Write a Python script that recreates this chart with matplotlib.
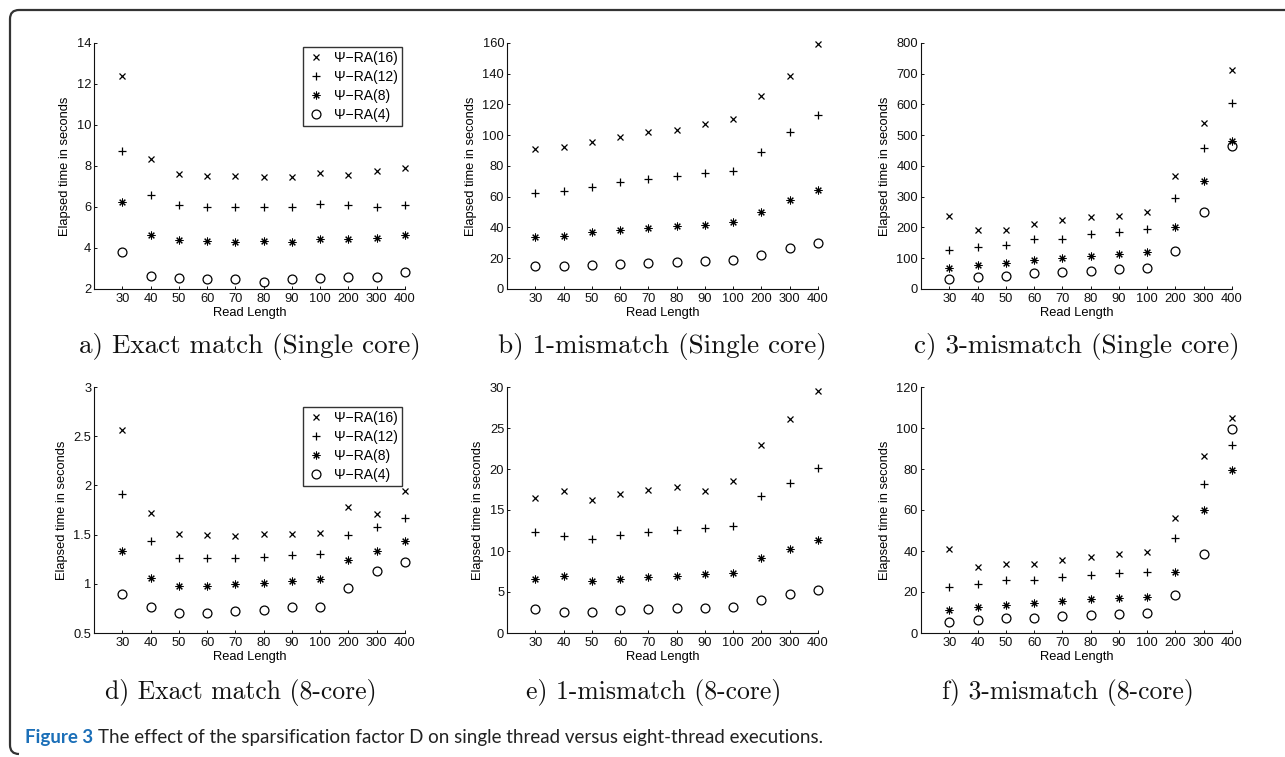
import matplotlib
matplotlib.use('Agg')
import matplotlib.pyplot as plt
from matplotlib.path import Path
from matplotlib.patches import PathPatch
from matplotlib.ticker import FormatStrFormatter

# ---------------- data ----------------
read_lengths = ['30', '40', '50', '60', '70', '80', '90', '100', '200', '300', '400']
series_labels = ['Ψ\u2212RA(16)', 'Ψ\u2212RA(12)', 'Ψ\u2212RA(8)', 'Ψ\u2212RA(4)']

# a) Exact match (Single core)
a_ra16 = [12.4, 8.35, 7.6, 7.5, 7.5, 7.48, 7.47, 7.65, 7.58, 7.75, 7.88]
a_ra12 = [8.75, 6.6, 6.12, 6.02, 6.0, 6.0, 6.02, 6.13, 6.12, 5.98, 6.1]
a_ra8 = [6.22, 4.65, 4.4, 4.35, 4.3, 4.32, 4.3, 4.42, 4.42, 4.5, 4.62]
a_ra4 = [3.8, 2.62, 2.55, 2.5, 2.48, 2.35, 2.48, 2.55, 2.6, 2.58, 2.82]

# b) 1-mismatch (Single core)
b_ra16 = [91.1, 92.4, 95.4, 99.1, 102.2, 103.7, 107.2, 110.6, 125.8, 138.4, 159.4]
b_ra12 = [62.5, 63.8, 66.6, 69.4, 71.8, 73.8, 75.3, 76.6, 89.2, 102.0, 113.4]
b_ra8 = [34.1, 34.7, 36.9, 38.4, 39.7, 40.8, 41.6, 43.6, 50.1, 57.9, 64.4]
b_ra4 = [14.8, 14.8, 15.4, 16.3, 16.9, 17.6, 18.0, 18.9, 22.1, 26.5, 29.9]

# c) 3-mismatch (Single core)
c_ra16 = [237, 191, 191, 211, 223, 234, 236, 252, 367, 541, 711]
c_ra12 = [128, 138, 144, 162, 164, 179, 186, 194, 296, 460, 604]
c_ra8 = [67, 77, 85, 94, 101, 106, 113, 119, 202, 351, 481]
c_ra4 = [33, 38, 43, 51, 55, 57, 64, 69, 122, 251, 464]

# d) Exact match (8-core)
d_ra16 = [2.56, 1.72, 1.51, 1.50, 1.49, 1.51, 1.51, 1.52, 1.78, 1.71, 1.94]
d_ra12 = [1.91, 1.44, 1.26, 1.26, 1.26, 1.27, 1.29, 1.30, 1.50, 1.58, 1.67]
d_ra8 = [1.33, 1.06, 0.975, 0.975, 1.0, 1.01, 1.03, 1.05, 1.24, 1.33, 1.43]
d_ra4 = [0.90, 0.76, 0.70, 0.70, 0.72, 0.73, 0.76, 0.76, 0.96, 1.13, 1.22]

# e) 1-mismatch (8-core)
e_ra16 = [16.46, 17.3, 16.2, 16.9, 17.4, 17.8, 17.3, 18.5, 22.9, 26.1, 29.5]
e_ra12 = [12.3, 11.8, 11.5, 11.9, 12.3, 12.6, 12.8, 13.0, 16.7, 18.3, 20.1]
e_ra8 = [6.6, 6.9, 6.3, 6.6, 6.8, 7.0, 7.2, 7.3, 9.2, 10.2, 11.4]
e_ra4 = [2.9, 2.6, 2.6, 2.85, 2.9, 3.1, 3.1, 3.2, 4.0, 4.8, 5.3]

# f) 3-mismatch (8-core)
f_ra16 = [41.0, 32.2, 33.8, 33.5, 35.4, 37.2, 38.4, 39.3, 56.3, 86.2, 104.9]
f_ra12 = [22.3, 24.1, 26.0, 25.7, 27.3, 28.5, 29.3, 29.9, 46.2, 72.7, 91.9]
f_ra8 = [11.4, 12.7, 13.8, 14.6, 15.4, 16.4, 17.1, 17.7, 29.6, 60.2, 79.3]
f_ra4 = [5.2, 6.2, 7.3, 7.3, 8.1, 8.6, 9.1, 9.6, 18.4, 38.7, 99.7]

panel_titles = ['a) Exact match (Single core)', 'b) 1-mismatch (Single core)',
                'c) 3-mismatch (Single core)', 'd) Exact match (8-core)',
                'e) 1-mismatch (8-core)', 'f) 3-mismatch (8-core)']
y_limits = [(2, 14), (0, 160), (0, 800), (0.5, 3), (0, 30), (0, 120)]
y_steps = [2, 20, 100, 0.5, 5, 20]

caption_bold = 'Figure 3'
caption_text = 'The effect of the sparsification factor D on single thread versus eight-thread executions.'

panels = [
    [a_ra16, a_ra12, a_ra8, a_ra4],
    [b_ra16, b_ra12, b_ra8, b_ra4],
    [c_ra16, c_ra12, c_ra8, c_ra4],
    [d_ra16, d_ra12, d_ra8, d_ra4],
    [e_ra16, e_ra12, e_ra8, e_ra4],
    [f_ra16, f_ra12, f_ra8, f_ra4],
]

# ---------------- styling ----------------
W, H = 1285, 757
fig = plt.figure(figsize=(W / 100, H / 100), dpi=100)
plt.rcParams['font.family'] = ['Liberation Sans', 'DejaVu Sans']

marker_styles = [
    dict(marker='x', markersize=4.6, markeredgewidth=0.9),
    dict(marker='+', markersize=6.0, markeredgewidth=0.9),
    dict(marker=(8, 2, 0), markersize=5.6, markeredgewidth=0.75),
    dict(marker='o', markersize=6.4, markeredgewidth=0.9, markerfacecolor='none'),
]

col_left_px = [94, 507, 921]
row_top_px = [43, 387]
ax_w_px, ax_h_px = 311, 246
title_y_px = [347, 693]
title_size = [19.5, 18.5]
title_dx = [0, -9]

x = list(range(1, len(read_lengths) + 1))

for i, series in enumerate(panels):
    r, c = divmod(i, 3)
    left = col_left_px[c] / W
    bottom = 1 - (row_top_px[r] + ax_h_px) / H
    ax = fig.add_axes([left, bottom, ax_w_px / W, ax_h_px / H])
    for vals, lab, ms in zip(series, series_labels, marker_styles):
        ax.plot(x, vals, linestyle='none', color='black', label=lab,
                clip_on=False, **ms)
    ax.set_xlim(0, len(read_lengths))
    lo, hi = y_limits[i]
    ax.set_ylim(lo, hi)
    step = y_steps[i]
    n = int(round((hi - lo) / step))
    ax.set_yticks([lo + k * step for k in range(n + 1)])
    ax.yaxis.set_major_formatter(FormatStrFormatter('%g'))
    ax.set_xticks(x)
    ax.set_xticklabels(read_lengths)
    for s in ['top', 'right']:
        ax.spines[s].set_visible(False)
    for s in ['left', 'bottom']:
        ax.spines[s].set_linewidth(0.8)
        ax.spines[s].set_color('#111111')
    ax.tick_params(axis='both', direction='in', length=2.5, width=0.7,
                   labelsize=9.3, colors='#111111')
    ax.tick_params(axis='y', pad=2)
    ax.tick_params(axis='x', pad=3)
    ax.set_ylabel('Elapsed time in seconds', fontsize=9.3, labelpad=4)
    ax.set_xlabel('Read Length', fontsize=9.3, labelpad=1)
    ax.patch.set_alpha(0)

    cx = (col_left_px[c] + ax_w_px / 2 + title_dx[r]) / W
    fig.text(cx, 1 - title_y_px[r] / H, panel_titles[i], family='cmr10',
             fontsize=title_size[r], ha='center', va='center', color='#111111')

    if c == 0:
        top_anchor = 0.985 if r == 0 else 0.92
        leg = ax.legend(loc='upper right', bbox_to_anchor=(0.99, top_anchor),
                        fontsize=10, frameon=True, fancybox=False,
                        edgecolor='black', borderpad=0.3, labelspacing=0.36,
                        handlelength=1.3, handletextpad=0.6, borderaxespad=0)
        leg.get_frame().set_linewidth(1.0)

# ---------------- frame ----------------
L, T, rad = 10, 10, 9
Bt = H - 3
verts = [(W, T), (L + rad, T), (L, T), (L, T + rad), (L, Bt - rad), (L, Bt), (L + rad, Bt)]
codes = [Path.MOVETO, Path.LINETO, Path.CURVE3, Path.CURVE3, Path.LINETO, Path.CURVE3, Path.CURVE3]
verts_f = [(vx / W, 1 - vy / H) for vx, vy in verts]
frame = PathPatch(Path(verts_f, codes), transform=fig.transFigure, fill=False,
                  edgecolor='#333333', linewidth=1.6)
fig.patches.append(frame)

# ---------------- caption ----------------
cap_font = ['Lato', 'DejaVu Sans']
cap_y = 1 - 737 / H
cap_size = 13.5
t1 = fig.text(25 / W, cap_y, caption_bold, family=cap_font, weight='bold',
              color='#1b6fb8', fontsize=cap_size, va='center', ha='left')
renderer = fig.canvas.get_renderer()
bb = t1.get_window_extent(renderer=renderer)
fig.text((bb.x1 + 5) / W, cap_y, caption_text, family=cap_font,
         color='#222222', fontsize=cap_size, va='center', ha='left')

fig.savefig('out.png', dpi=100)
